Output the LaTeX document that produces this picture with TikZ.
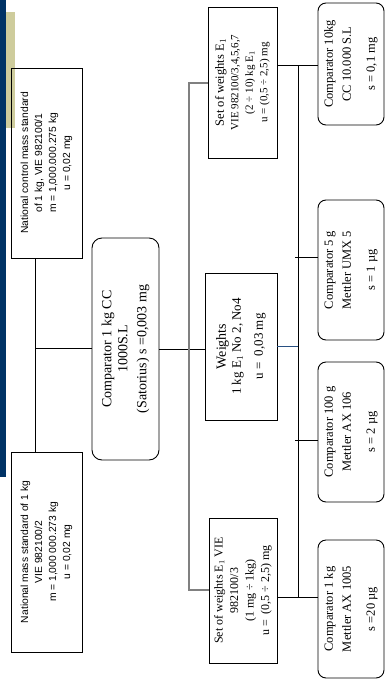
\documentclass[tikz,border=0pt]{standalone}
\usepackage{fontspec}
\setmainfont{Liberation Serif}
\setsansfont{Liberation Sans}
\usetikzlibrary{positioning}

\definecolor{barblue}{RGB}{0,51,102}
\definecolor{barkhaki}{RGB}{206,204,156}
\definecolor{linkblue}{RGB}{40,80,130}

\begin{document}
\begin{tikzpicture}[x=1pt, y=-1pt, line width=0.9pt,
    natbox/.style={draw, rotate=90, align=center, inner sep=0pt,
        font=\sffamily\fontsize{10.3}{14}\selectfont},
    setbox/.style={draw, rotate=90, align=center, inner sep=0pt},
    cmpbox/.style={draw, rotate=90, align=center, inner sep=0pt, rounded corners=8pt,
        font=\fontsize{12.5}{18}\selectfont},
    trunk/.style={draw=gray, line width=1.4pt}]
    \useasboundingbox (0,0) rectangle (385,680);

    % Side bars
    \fill[barblue] (0,0) rectangle (6,477);
    \fill[barkhaki] (6,12) rectangle (15,128);

    % National standards
    \node[natbox, minimum width=190, minimum height=71] (nat1) at (46.5,163)
        {National control mass standard\\ of 1 kg, VIE 982100/1\\ m = 1,000.000.275 kg\\ u = 0,02 mg};
    \node[natbox, minimum width=200, minimum height=71] (nat2) at (46.5,552)
        {National mass standard of 1 kg\\ VIE 982100/2\\ m = 1,000 000.273 kg\\ u = 0,02 mg};

    % Comparator in the middle
    \node[cmpbox, rounded corners=10pt, minimum width=222, minimum height=67,
        font=\fontsize{14}{16}\selectfont] (cmpA) at (125.5,349)
        {Comparator 1 kg CC\\ 1000S.L\\[3pt] (Satorius) s =0,003 mg};

    % Weight sets
    \node[setbox, minimum width=151, minimum height=69,
        font=\fontsize{11}{14.5}\selectfont] (setA) at (242.5,82.5)
        {{\fontsize{12.5}{14.5}\selectfont Set of weights E$_1$}\\ VIE 982100/3,4,5,6,7\\ (2 ÷ 10) kg E$_1$\\ u = (0,5 ÷ 2,5) mg};
    \node[setbox, minimum width=147, minimum height=72,
        font=\fontsize{13}{15}\selectfont] (wts) at (241,346.5)
        {{\fontsize{14}{15}\selectfont Weights}\\ 1 kg E$_1$ No 2, No4\\[7pt] u = \ 0,03 mg};
    \node[setbox, minimum width=145, minimum height=68, inner ysep=-4pt,
        font=\fontsize{12}{15.5}\selectfont] (setB) at (243,590.5)
        {Set of weights E$_1$ VIE\\ 982100/3\\ (1 mg ÷ 1kg)\\ u = \ (0,5 ÷ 2,5) mg};

    % Comparators on the right
    \node[cmpbox, minimum width=122, minimum height=66] (c10) at (351,64)
        {Comparator 10kg\\ CC 10.000 S.L\\[6pt] s = 0,1 mg};
    \node[cmpbox, minimum width=140, minimum height=66] (c5) at (351,270)
        {Comparator 5 g\\ Mettler UMX 5\\[6pt] s = 1 µg};
    \node[cmpbox, minimum width=140, minimum height=66] (c100) at (351,432)
        {Comparator 100 g\\ Mettler AX 106\\[6pt] s = 2 µg};
    \node[cmpbox, minimum width=138, minimum height=66] (c1) at (351,609)
        {Comparator 1 kg\\ Mettler AX 1005\\[6pt] s =20 µg};

    % Junctions
    \coordinate (nl) at (35,348);
    \coordinate (t1top) at (189,83);
    \coordinate (t1bot) at (189,590);
    \coordinate (t2top) at (298,65);
    \coordinate (t2bot) at (298,597);
    \coordinate (j5) at (295,257);
    \coordinate (j100) at (295,440);

    % Connections
    \draw (nl |- nat1.west) -- (nl |- nat2.east);
    \draw (nl) -- (nl -| cmpA.north);
    \draw (cmpA.south) -- (cmpA.south -| wts.north);
    \draw[trunk] (t1top -| setA.north) -- (t1top) -- (t1bot) -- (t1bot -| setB.north);
    \draw (t2top) -- (t2bot);
    \draw (setA.south |- t2top) -- (c10.north |- t2top);
    \draw[linkblue] (wts.south) -- (wts.south -| t2top);
    \draw (j5) -- (j5 -| c5.north);
    \draw (j100) -- (j100 -| c100.north);
    \draw (setB.south |- t2bot) -- (c1.north |- t2bot);
\end{tikzpicture}
\end{document}
